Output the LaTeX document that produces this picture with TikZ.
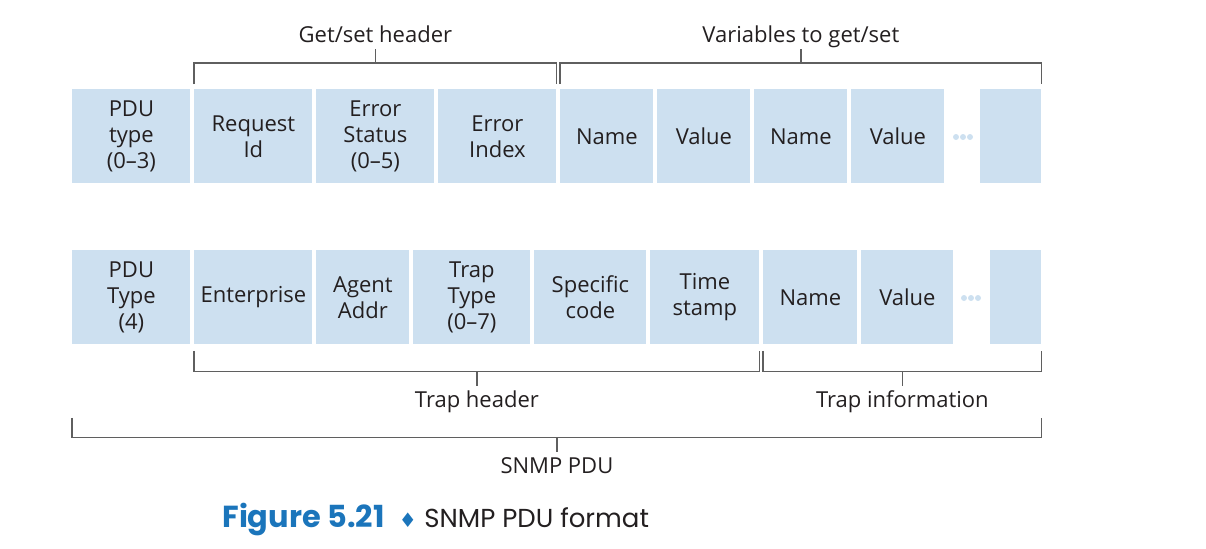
\documentclass[tikz,border=0pt]{standalone}
\usepackage{fontspec}
\setmainfont{Open Sans}
\newfontfamily\capfont{Poppins}
\newfontfamily\symfont{DejaVu Sans}
\usetikzlibrary{positioning}
\definecolor{boxblue}{RGB}{205,224,240}
\definecolor{linegray}{RGB}{95,95,95}
\definecolor{textdark}{RGB}{35,31,32}
\definecolor{figblue}{RGB}{27,117,187}
\begin{document}
\begin{tikzpicture}[x=0.5pt, y=-0.5pt, font=\fontsize{11}{13}\selectfont, line join=miter]
		\tikzset{field/.style={fill=boxblue, text=textdark, inner sep=0pt, minimum height=47pt, anchor=north west, align=center},
			bracket/.style={draw=linegray, line width=0.6pt},
			label style/.style={text=textdark, inner sep=2.5pt, text height=8pt, text depth=0.5pt}}
		\useasboundingbox (0,0) rectangle (1206,548);
		% get/set PDU
		\node[field, minimum width=59pt] (pdua) at (72,89) {PDU\\type\\(0--3)};
		\node[field, minimum width=59pt] (reqid) at (194,89) {Request\\Id};
		\node[field, minimum width=59pt] (errst) at (316,89) {Error\\Status\\(0--5)};
		\node[field, minimum width=59pt] (erridx) at (438,89) {Error\\Index};
		\node[field, minimum width=46.5pt] (namea) at (560,89) {Name};
		\node[field, minimum width=46.5pt] (valuea) at (657,89) {Value};
		\node[field, minimum width=46.5pt] (nameb) at (754,89) {Name};
		\node[field, minimum width=46.5pt] (valueb) at (851,89) {Value};
		\node[field, minimum width=30.5pt] (lasta) at (980,89) {};
		\fill[boxblue] (956,137) circle (1.5pt) (963,137) circle (1.5pt) (970,137) circle (1.5pt);
		% trap PDU
		\node[field, minimum width=59pt] (pdub) at (72,250) {PDU\\Type\\(4)};
		\node[field, minimum width=59pt] (enterp) at (194,250) {Enterprise};
		\node[field, minimum width=46.5pt] (agent) at (316,250) {Agent\\Addr};
		\node[field, minimum width=58.5pt] (traptype) at (413,250) {Trap\\Type\\(0--7)};
		\node[field, minimum width=56pt] (spec) at (534,250) {Specific\\code};
		\node[field, minimum width=54.5pt] (tstamp) at (650,250) {Time\\stamp};
		\node[field, minimum width=47pt] (namec) at (763,250) {Name};
		\node[field, minimum width=46pt] (valuec) at (861,250) {Value};
		\node[field, minimum width=25.5pt] (lastb) at (990,250) {};
		\fill[boxblue] (964,298) circle (1.5pt) (971,298) circle (1.5pt) (978,298) circle (1.5pt);
		% brackets above
		\draw[bracket] ([yshift=2.5pt]reqid.north west) -- ([yshift=13pt]reqid.north west) -- coordinate (gsmid) ([yshift=13pt]erridx.north east) -- ([yshift=2.5pt]erridx.north east);
		\node[label style, above=7pt of gsmid] (gshead) {Get/set header};
		\draw[bracket] (gsmid) -- (gshead.south);
		\draw[bracket] ([yshift=2.5pt]namea.north west) -- ([yshift=13pt]namea.north west) -- coordinate (varmid) ([yshift=13pt]lasta.north east) -- ([yshift=2.5pt]lasta.north east);
		\node[label style, above=7pt of varmid] (vars) {Variables to get/set};
		\draw[bracket] (varmid) -- (vars.south);
		% brackets below
		\draw[bracket] ([yshift=-3pt]enterp.south west) -- ([yshift=-13.5pt]enterp.south west) -- coordinate (thmid) ([yshift=-13.5pt]tstamp.south east) -- ([yshift=-3pt]tstamp.south east);
		\node[label style, below=7pt of thmid] (thead) {Trap header};
		\draw[bracket] (thmid) -- (thead.north);
		\draw[bracket] ([yshift=-3pt]namec.south west) -- ([yshift=-13.5pt]namec.south west) -- coordinate (timid) ([yshift=-13.5pt]lastb.south east) -- ([yshift=-3pt]lastb.south east);
		\node[label style, below=7pt of timid] (tinfo) {Trap information};
		\draw[bracket] (timid) -- (tinfo.north);
		\draw[bracket] ([yshift=-36.5pt]pdub.south west) -- ([yshift=-46.5pt]pdub.south west) -- coordinate (snmpmid) ([yshift=-46.5pt]lastb.south east) -- ([yshift=-36.5pt]lastb.south east);
		\node[label style, below=7pt of snmpmid] (snmp) {SNMP PDU};
		\draw[bracket] (snmpmid) -- (snmp.north);
		% caption
		\node[anchor=base west, inner sep=0pt, text=figblue, font=\capfont\bfseries\fontsize{15.2}{17}\selectfont] (figno) at (222,527) {Figure 5.21};
		\node[anchor=base west, inner sep=0pt, text=figblue, font=\symfont\fontsize{10}{10}\selectfont] (dia) at (398.5,527) {♦};
		\node[anchor=base west, inner sep=0pt, text=textdark, font=\capfont\fontsize{13}{15}\selectfont] (figtitle) at (424,527) {SNMP PDU format};
		\end{tikzpicture}
\end{document}
